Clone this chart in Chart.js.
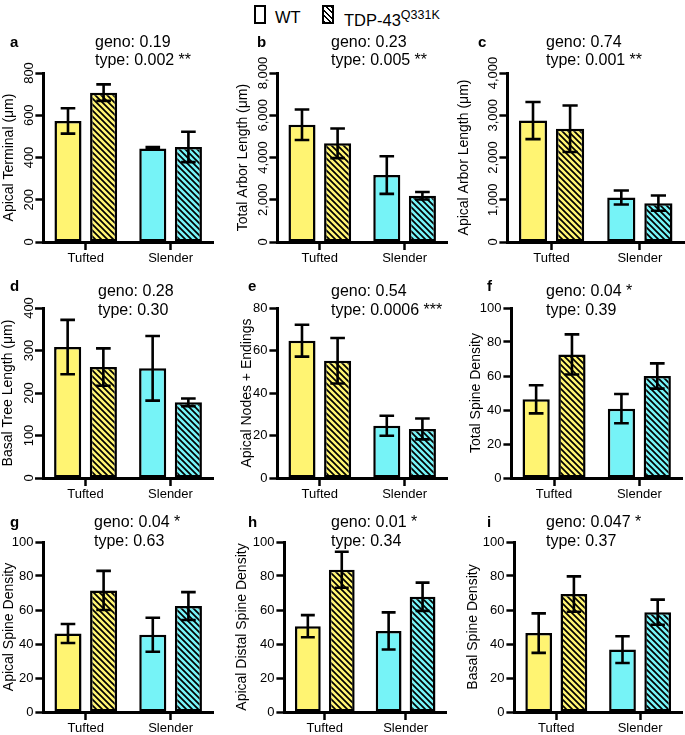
<!DOCTYPE html>
<html><head><meta charset="utf-8">
<script src="https://cdn.jsdelivr.net/npm/chart.js@4.4.1/dist/chart.umd.min.js"></script>
<style>
body{margin:0;width:685px;height:735px;background:#fff;position:relative;overflow:hidden;font-family:"Liberation Sans",Arial,sans-serif;color:#000;}
canvas{position:absolute;z-index:1;}
.tx{position:absolute;white-space:nowrap;z-index:2;line-height:1;}
.box{position:absolute;box-sizing:border-box;border:2px solid #000;background:#fff;z-index:2;}
.hb{background:repeating-linear-gradient(45deg,#000 0 1.4px,#fff 1.4px 3.8px);}
</style></head><body>
<div id="root"></div>
<script>
// ---------- data ----------
const categories = ['Tufted', 'Slender'];
const seriesNames = ['WT', 'TDP-43Q331K'];

const apicalTerminalWT = [573, 443];
const apicalTerminalWTErr = [60, 6];
const apicalTerminalTDP = [707, 450];
const apicalTerminalTDPErr = [39, 72];

const totalArborWT = [5550, 3170];
const totalArborWTErr = [720, 890];
const totalArborTDP = [4670, 2190];
const totalArborTDPErr = [700, 180];

const apicalArborWT = [2875, 1053];
const apicalArborWTErr = [440, 165];
const apicalArborTDP = [2680, 920];
const apicalArborTDPErr = [550, 180];

const basalTreeWT = [308, 258];
const basalTreeWTErr = [64, 76];
const basalTreeTDP = [261, 178];
const basalTreeTDPErr = [44, 9];

const apicalNodesWT = [64.6, 24.6];
const apicalNodesWTErr = [7.5, 4.7];
const apicalNodesTDP = [55.2, 23.1];
const apicalNodesTDPErr = [10.7, 4.9];

const totalSpineWT = [46.3, 40.8];
const totalSpineWTErr = [8.3, 8.6];
const totalSpineTDP = [72.7, 60.0];
const totalSpineTDPErr = [11.8, 7.4];

const apicalSpineWT = [46.2, 45.4];
const apicalSpineWTErr = [5.6, 10.0];
const apicalSpineTDP = [71.5, 62.3];
const apicalSpineTDPErr = [11.5, 8.2];

const apicalDistalWT = [50.5, 47.7];
const apicalDistalWTErr = [6.5, 10.9];
const apicalDistalTDP = [83.7, 67.8];
const apicalDistalTDPErr = [10.6, 8.3];

const basalSpineWT = [46.4, 36.7];
const basalSpineWTErr = [11.6, 7.9];
const basalSpineTDP = [69.4, 58.7];
const basalSpineTDPErr = [10.4, 7.4];

const yMax = [800, 8000, 4000, 400, 80, 100, 100, 100, 100];
const yStep = [200, 2000, 1000, 100, 20, 20, 20, 20, 20];
const yTitles = ['Apical Terminal (μm)', 'Total Arbor Length (μm)', 'Apical Arbor Length (μm)',
  'Basal Tree Length (μm)', 'Apical Nodes + Endings', 'Total Spine Density',
  'Apical Spine Density', 'Apical Distal Spine Density', 'Basal Spine Density'];
const panelLetters = ['a','b','c','d','e','f','g','h','i'];
const genoText = ['geno: 0.19','geno: 0.23','geno: 0.74','geno: 0.28','geno: 0.54','geno: 0.04 *','geno: 0.04 *','geno: 0.01 *','geno: 0.047 *'];
const typeText = ['type: 0.002 **','type: 0.005 **','type: 0.001 **','type: 0.30','type: 0.0006 ***','type: 0.39','type: 0.63','type: 0.34','type: 0.37'];

const wtSeries = [apicalTerminalWT, totalArborWT, apicalArborWT, basalTreeWT, apicalNodesWT, totalSpineWT, apicalSpineWT, apicalDistalWT, basalSpineWT];
const wtErrs = [apicalTerminalWTErr, totalArborWTErr, apicalArborWTErr, basalTreeWTErr, apicalNodesWTErr, totalSpineWTErr, apicalSpineWTErr, apicalDistalWTErr, basalSpineWTErr];
const tdpSeries = [apicalTerminalTDP, totalArborTDP, apicalArborTDP, basalTreeTDP, apicalNodesTDP, totalSpineTDP, apicalSpineTDP, apicalDistalTDP, basalSpineTDP];
const tdpErrs = [apicalTerminalTDPErr, totalArborTDPErr, apicalArborTDPErr, basalTreeTDPErr, apicalNodesTDPErr, totalSpineTDPErr, apicalSpineTDPErr, apicalDistalTDPErr, basalSpineTDPErr];

// ---------- layout (pixels) ----------
const FONT = '"Liberation Sans", Arial, sans-serif';
const YELLOW = '#fff472';
const CYAN = '#76f3f7';
const areas = [
  {L:43, R:213, T:73, B:242, tc:9,   sx:95,  lx:10,  row:0, rot:true},
  {L:277,R:447, T:73, B:242, tc:243, sx:331, lx:257, row:0, rot:true},
  {L:507,R:684, T:73, B:242, tc:464, sx:546, lx:478, row:0, rot:true},
  {L:43, R:213, T:308,B:478, tc:8,   sx:98,  lx:10,  row:1, rot:true},
  {L:277,R:447, T:308,B:478, tc:247, sx:331, lx:248, row:1, rot:false},
  {L:511,R:682, T:308,B:478, tc:476, sx:546, lx:487, row:1, rot:false},
  {L:43, R:213, T:542,B:712, tc:9,   sx:94,  lx:10,  row:2, rot:false},
  {L:284,R:446, T:542,B:712, tc:242, sx:331, lx:248, row:2, rot:false},
  {L:514,R:682, T:542,B:712, tc:473, sx:546, lx:487, row:2, rot:false}
];
const rowBase = [{g:48, t:66, l:47}, {g:297, t:316, l:291}, {g:528, t:547, l:527}];
const TOPPAD = 30;

Chart.defaults.font.family = FONT;
Chart.defaults.color = '#000';

function hatch(color) {
  const s = 6;
  const c = document.createElement('canvas'); c.width = s; c.height = s;
  const g = c.getContext('2d');
  g.fillStyle = color; g.fillRect(0, 0, s, s);
  g.strokeStyle = '#000'; g.lineWidth = 1.7;
  g.beginPath();
  g.moveTo(-1, -1); g.lineTo(s + 1, s + 1);
  g.moveTo(s - 1, -1); g.lineTo(s + 1, 1);
  g.moveTo(-1, s - 1); g.lineTo(1, s + 1);
  g.stroke();
  return g.createPattern(c, 'repeat');
}

const errPlugin = {
  id: 'errbars',
  afterDatasetsDraw(chart, args, opts) {
    const ctx = chart.ctx, ys = chart.scales.y;
    chart.data.datasets.forEach((ds, di) => {
      const meta = chart.getDatasetMeta(di);
      const errs = opts.errs[di];
      meta.data.forEach((bar, j) => {
        const v = ds.data[j], e = errs[j];
        const x = bar.x;
        const y1 = ys.getPixelForValue(v + e), y2 = ys.getPixelForValue(v - e);
        const hw = bar.width * 0.27;
        ctx.save();
        ctx.strokeStyle = '#000'; ctx.lineWidth = 2.6; ctx.lineCap = 'butt';
        ctx.beginPath();
        ctx.moveTo(x, y1); ctx.lineTo(x, y2);
        ctx.moveTo(x - hw, y1); ctx.lineTo(x + hw, y1);
        ctx.moveTo(x - hw, y2); ctx.lineTo(x + hw, y2);
        ctx.stroke();
        ctx.restore();
      });
    });
  }
};

const rotTicks = {
  id: 'rotticks',
  afterDraw(chart, args, opts) {
    if (!opts.on) return;
    const ctx = chart.ctx, ys = chart.scales.y;
    ctx.save();
    ctx.font = '13px ' + FONT; ctx.fillStyle = '#000';
    ctx.textAlign = 'center'; ctx.textBaseline = 'middle';
    ys.ticks.forEach(t => {
      const y = ys.getPixelForValue(t.value);
      ctx.save();
      ctx.translate(chart.chartArea.left - 14, y);
      ctx.rotate(-Math.PI / 2);
      ctx.fillText(t.value.toLocaleString('en-US'), 0, 0);
      ctx.restore();
    });
    ctx.restore();
  }
};

const root = document.body;
function addText(txt, left, baseline, size, bold) {
  const d = document.createElement('div');
  d.className = 'tx';
  d.style.left = left + 'px';
  d.style.top = (baseline - 0.8465 * size) + 'px';
  d.style.fontSize = size + 'px';
  if (bold) d.style.fontWeight = 'bold';
  d.textContent = txt;
  root.appendChild(d);
  return d;
}

areas.forEach((a, i) => {
  const cl = Math.max(0, a.tc - 8.4);
  const ct = a.T - TOPPAD;
  const cw = Math.round(a.R + 4 - cl);
  const ch = a.B + 30 - ct;
  const cv = document.createElement('canvas');
  cv.width = cw; cv.height = ch;
  cv.style.left = cl + 'px'; cv.style.top = ct + 'px';
  cv.style.width = cw + 'px'; cv.style.height = ch + 'px';
  root.appendChild(cv);
  const yw = a.L - cl;
  new Chart(cv.getContext('2d'), {
    type: 'bar',
    data: {
      labels: categories,
      datasets: [
        {label: seriesNames[0], data: wtSeries[i], backgroundColor: [YELLOW, CYAN],
         borderColor: '#000', borderWidth: 2.5, borderSkipped: false,
         categoryPercentage: 0.84, barPercentage: 0.76},
        {label: seriesNames[1], data: tdpSeries[i], backgroundColor: [hatch(YELLOW), hatch(CYAN)],
         borderColor: '#000', borderWidth: 2.5, borderSkipped: false,
         categoryPercentage: 0.84, barPercentage: 0.76}
      ]
    },
    options: {
      responsive: false, animation: false, devicePixelRatio: 1,
      layout: {padding: {left: 0, top: TOPPAD, right: 4, bottom: 0}},
      plugins: {legend: {display: false}, tooltip: {enabled: false},
        errbars: {errs: [wtErrs[i], tdpErrs[i]]}, rotticks: {on: a.rot}},
      scales: {
        x: {
          type: 'category', offset: true,
          grid: {display: true, drawOnChartArea: false, drawTicks: true, tickLength: 8, tickWidth: 2.5, color: '#000', offset: false},
          border: {display: true, width: 3, color: '#000'},
          ticks: {font: {size: 13}, color: '#000', padding: 1, maxRotation: 0, autoSkip: false},
          afterFit(s) { s.height = 30; s.paddingLeft = 0; s.paddingRight = 0; }
        },
        y: {
          min: 0, max: yMax[i],
          grid: {display: true, drawOnChartArea: false, drawTicks: true, tickLength: 8, tickWidth: 2.5, color: '#000'},
          border: {display: true, width: 3, color: '#000'},
          ticks: {stepSize: yStep[i], font: {size: 13}, padding: 2,
            color: a.rot ? 'rgba(0,0,0,0)' : '#000',
            callback: v => v.toLocaleString('en-US')},
          title: {display: true, text: yTitles[i], font: {size: 14}, color: '#000', padding: {top: 0, bottom: 0}},
          afterFit(s) { s.width = yw; s.paddingTop = 0; s.paddingBottom = 0; }
        }
      }
    },
    plugins: [errPlugin, rotTicks]
  });
  const rb = rowBase[a.row];
  addText(panelLetters[i], a.lx, rb.l, 15, true);
  addText(genoText[i], a.sx, rb.g, 16, false);
  addText(typeText[i], a.sx, rb.t, 16, false);
});

// legend
function addBox(left, hatched) {
  const b = document.createElement('div');
  b.className = 'box' + (hatched ? ' hb' : '');
  b.style.left = left + 'px'; b.style.top = '5px';
  b.style.width = '12px'; b.style.height = '19px';
  root.appendChild(b);
}
addBox(254, false);
addText('WT', 275, 23, 16.5, false);
addBox(322, true);
const leg = addText('TDP-43', 344, 23, 16.5, false);
const sup = document.createElement('span');
sup.textContent = 'Q331K';
sup.style.fontSize = '12.5px';
sup.style.verticalAlign = '7px';
leg.appendChild(sup);
</script>
</body></html>
